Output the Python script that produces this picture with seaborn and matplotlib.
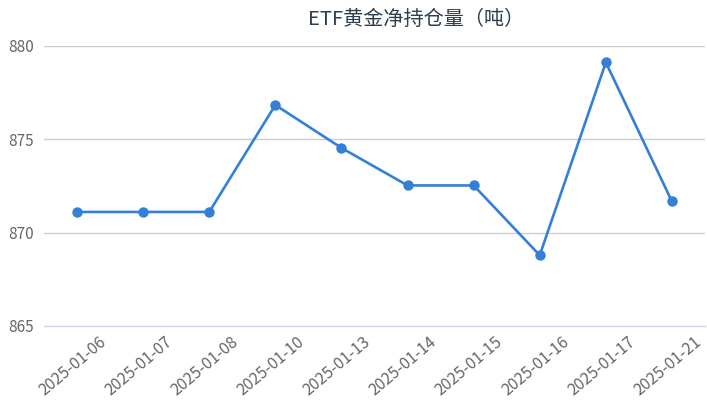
import matplotlib
matplotlib.use("Agg")
import matplotlib.pyplot as plt
import matplotlib.transforms as mtransforms
import seaborn as sns
import pandas as pd
import numpy as np

dates = ["2025-01-06", "2025-01-07", "2025-01-08", "2025-01-10", "2025-01-13",
         "2025-01-14", "2025-01-15", "2025-01-16", "2025-01-17", "2025-01-21"]
holdings = [871.11, 871.11, 871.11, 876.84, 874.54, 872.53, 872.53, 868.79, 879.12, 871.67]
y_ticks = [865, 870, 875, 880]
title = "ETF黄金净持仓量（吨）"

sns.set_theme(style="white")
plt.rcParams["font.family"] = ["Noto Sans CJK SC", "DejaVu Sans"]

df = pd.DataFrame({"pos": np.arange(len(dates)), "date": dates, "value": holdings})

fig = plt.figure(figsize=(7.07, 4.03), dpi=100)
ax = fig.add_axes([44 / 707, 1 - 326 / 403, 661 / 707, 280 / 403])

line_color = "#3480d8"
sns.lineplot(data=df, x="pos", y="value", ax=ax, color=line_color, linewidth=1.9,
             marker="o", markersize=7.5, markeredgewidth=0, markerfacecolor=line_color)

ax.set_xlim(-0.5, len(dates) - 0.5)
ax.set_ylim(y_ticks[0], y_ticks[-1])
ax.set_yticks(y_ticks)
ax.set_yticklabels([str(t) for t in y_ticks])
ax.set_xlabel("")
ax.set_ylabel("")

for t in y_ticks[1:]:
    ax.axhline(t, color="#cccccc", linewidth=1.0, zorder=0)

for s in ["top", "right", "left"]:
    ax.spines[s].set_visible(False)
ax.spines["bottom"].set_color("#ccd6eb")
ax.spines["bottom"].set_linewidth(1.0)

ax.tick_params(axis="y", length=0, pad=7, labelsize=11, labelcolor="#666666")
ax.set_xticks(np.arange(len(dates)))
ax.set_xticklabels(dates)
ax.set_xticks(np.arange(-0.5, len(dates)), minor=True)
ax.tick_params(axis="x", which="major", length=0, pad=10, labelsize=11.5, labelcolor="#666666")
ax.tick_params(axis="x", which="minor", length=5, width=1, color="#ccd6eb", direction="out")

offset = mtransforms.ScaledTranslation(27 / 100, 0, fig.dpi_scale_trans)
for lab in ax.get_xticklabels():
    lab.set_rotation(40)
    lab.set_rotation_mode("anchor")
    lab.set_ha("right")
    lab.set_va("center")
    lab.set_transform(lab.get_transform() + offset)

fig.text(416 / 707, 1 - 19 / 403, title, ha="center", va="center",
         fontsize=14.5, color="#2c3e50")

fig.savefig("out.png", dpi=100)
